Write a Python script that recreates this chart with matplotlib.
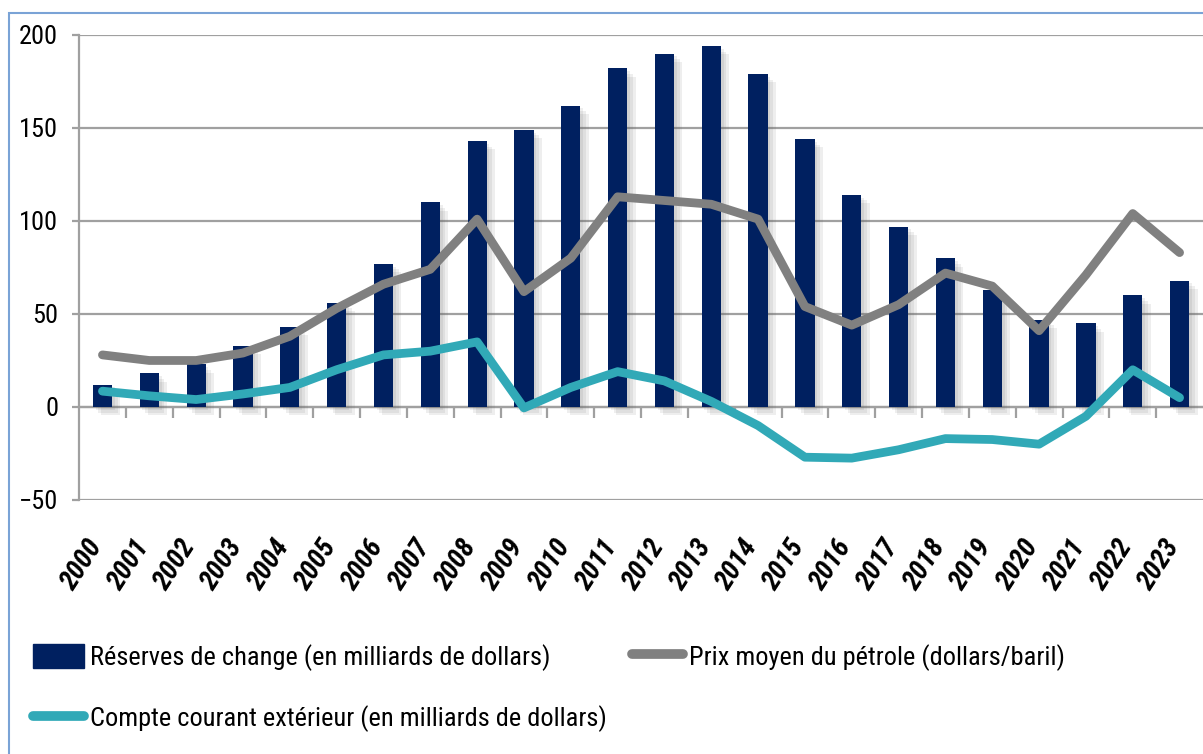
import matplotlib
matplotlib.use('Agg')
import matplotlib.pyplot as plt
import matplotlib.patheffects as pe
import matplotlib.transforms as mtransforms
from matplotlib import font_manager
from matplotlib.patches import Rectangle
from matplotlib.lines import Line2D
import numpy as np

# Données
years = [str(y) for y in range(2000, 2024)]
reserves = [12, 18, 23, 33, 43, 56, 77, 110, 143, 149, 162, 182, 190, 194,
            179, 144, 114, 97, 80, 63, 47, 45, 60, 68]
oil_price = [28, 25, 25, 29, 38, 53, 66, 74, 101, 62, 80, 113, 111, 109,
             101, 54, 44, 55, 72, 65, 41, 71, 104, 83]
current_account = [8.5, 6, 4, 7, 10.5, 20, 28, 30, 35, -0.5, 10.5, 19, 14, 3,
                   -10, -27, -27.5, -23, -17, -17.5, -20, -5, 20, 5]
yticks = [-50, 0, 50, 100, 150, 200]

lab_reserves = "Réserves de change (en milliards de dollars)"
lab_oil = "Prix moyen du pétrole (dollars/baril)"
lab_ca = "Compte courant extérieur (en milliards de dollars)"

NAVY = '#002060'
GRAY = '#808080'
TEAL = '#31a9b7'
GRID = '#a0a0a0'

# police étroite (façon Calibri compressée), sinon la plus proche disponible
available = {f.name for f in font_manager.fontManager.ttflist}
narrow = None
for name in ['Liberation Sans Narrow', 'DejaVu Sans Condensed', 'Roboto Condensed',
             'Open Sans Condensed', 'Noto Sans Condensed', 'Lato', 'Roboto']:
    if name in available:
        narrow = name
        break
plt.rcParams['font.family'] = [narrow, 'DejaVu Sans'] if narrow else ['DejaVu Sans']
is_narrow = narrow in ('Liberation Sans Narrow', 'DejaVu Sans Condensed', 'Roboto Condensed',
                       'Open Sans Condensed', 'Noto Sans Condensed')
fs = 19 if is_narrow else 16

fig = plt.figure(figsize=(12.03, 7.54), dpi=100)
ax = fig.add_axes([0.0657, 0.3369, 0.9343, 0.6167])

x = np.arange(len(years))
shadow = [pe.SimplePatchShadow(offset=(o, -o), shadow_rgbFace='0.4', alpha=0.11) for o in (2, 4, 6)]
shadow.append(pe.Normal())
bars = ax.bar(x, reserves, width=0.41, color=NAVY, zorder=3)
for b in bars:
    b.set_path_effects(shadow)

ax.plot(x, oil_price, color=GRAY, lw=6.3, solid_capstyle='round', solid_joinstyle='round', zorder=4)
ax.plot(x, current_account, color=TEAL, lw=6.3, solid_capstyle='round', solid_joinstyle='round', zorder=5)

ax.set_xlim(-0.5, len(years) - 0.5)
ax.set_ylim(-50, 200)
ax.set_yticks(yticks)
ax.yaxis.grid(True, color=GRID, lw=1.6, zorder=0)
ax.set_axisbelow(True)
for s in ['top', 'right', 'bottom']:
    ax.spines[s].set_visible(False)
ax.spines['left'].set_color(GRID)
ax.spines['left'].set_linewidth(1.6)
ax.tick_params(axis='y', length=5, width=1.6, color=GRID, pad=10, labelsize=fs)

ax.set_xticks(x)
ax.set_xticklabels(years, rotation=57, ha='right', va='top', fontsize=fs + 1,
                   fontweight='bold', fontstyle='italic')
ax.tick_params(axis='x', length=0, pad=25)
shift = mtransforms.ScaledTranslation(5 / 100, 0, fig.dpi_scale_trans)
for lbl in ax.get_xticklabels():
    lbl.set_transform(lbl.get_transform() + shift)

# axe à zéro avec graduations entre les catégories
sec = ax.secondary_xaxis(50 / 250)
sec.set_xticks(np.arange(0.5, len(years) - 0.5))
sec.set_xticklabels([])
sec.spines['bottom'].set_color(GRID)
sec.spines['bottom'].set_linewidth(1.6)
sec.tick_params(axis='x', direction='out', length=8, width=1.6, color=GRID)

# cadre du graphique
fig.patches.append(Rectangle((9 / 1203, -0.05), 1.1, 0.9828 + 0.05, transform=fig.transFigure,
                             fill=False, edgecolor='#7aa3d6', lw=1.5, clip_on=False))

leg_kw = dict(loc='upper left', frameon=False, fontsize=fs, handlelength=1.95, handleheight=1.0,
              handletextpad=0.2, labelspacing=1.3, borderpad=0, borderaxespad=0)
h_res = Rectangle((0, 0), 1, 1, color=NAVY)
h_ca = Line2D([], [], color=TEAL, lw=7, solid_capstyle='round')
h_oil = Line2D([], [], color=GRAY, lw=7, solid_capstyle='round')
fig.legend([h_res, h_ca], [lab_reserves, lab_ca],
           bbox_to_anchor=(33 / 1203, 1 - 644 / 754), **leg_kw)
fig.legend([h_oil], [lab_oil], bbox_to_anchor=(632 / 1203, 1 - 644 / 754), **leg_kw)

fig.savefig('out.png', dpi=100)
